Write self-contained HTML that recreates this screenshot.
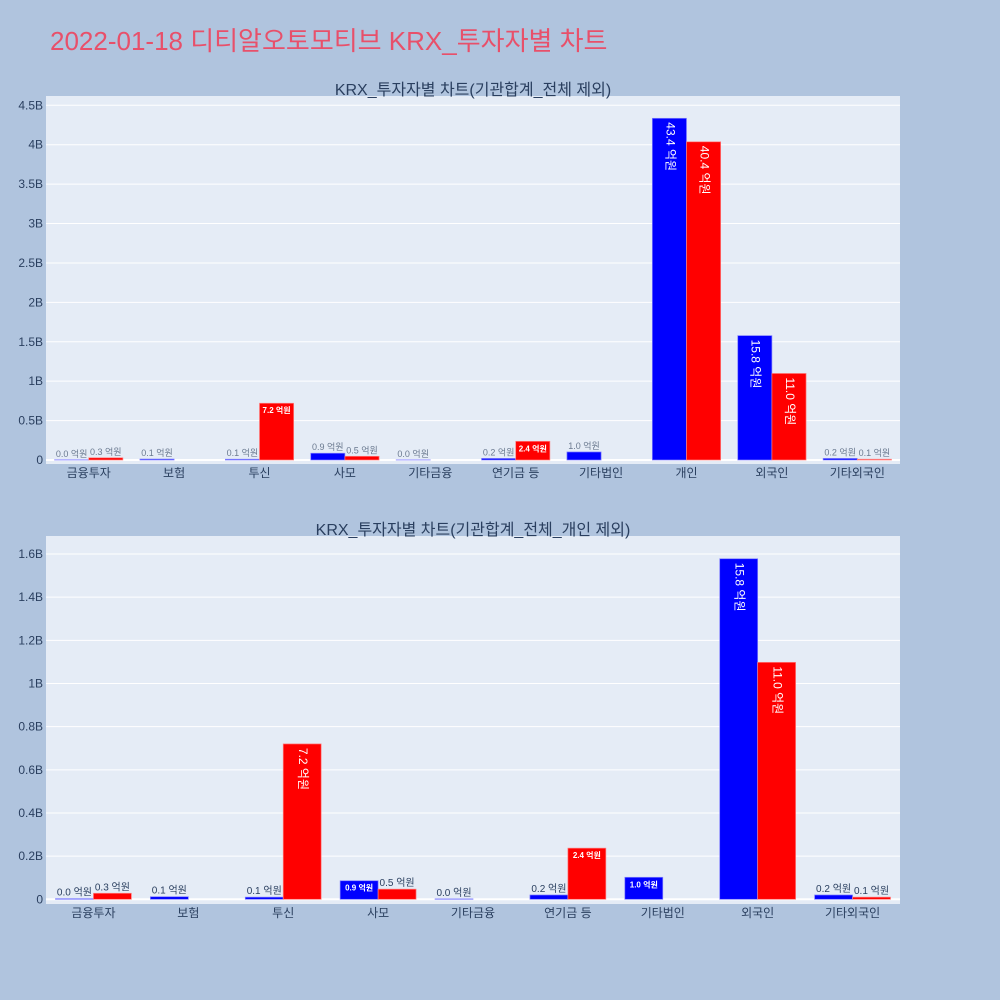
<!DOCTYPE html>
<html><head><meta charset="utf-8"><style>
html,body{margin:0;padding:0;background:#b0c4de;}
svg{display:block;font-family:"Liberation Sans","Noto Sans CJK KR",sans-serif;}
</style></head><body>
<svg id="svg" width="1000" height="1000" xmlns="http://www.w3.org/2000/svg">
<rect width="1000" height="1000" fill="#b0c4de"/>
<text x="50" y="50" font-size="26" fill="#e8506a">2022-01-18 디티알오토모티브 KRX_투자자별 차트</text>
<g id="c1"></g>
<g id="c2"></g>
</svg>
<script>
const cats1 = ["금융투자","보험","투신","사모","기타금융","연기금 등","기타법인","개인","외국인","기타외국인"];
const blue1 = [0.003,0.012,0.01,0.086,0.002,0.02,0.102,4.335,1.578,0.02];
const red1  = [0.028,0,0.72,0.047,0,0.237,0,4.037,1.098,0.01];
const ticks1 = [0,0.5,1,1.5,2,2.5,3,3.5,4,4.5];
const tickLabels1 = ["0","0.5B","1B","1.5B","2B","2.5B","3B","3.5B","4B","4.5B"];
const cats2 = ["금융투자","보험","투신","사모","기타금융","연기금 등","기타법인","외국인","기타외국인"];
const blue2 = [0.003,0.012,0.01,0.086,0.002,0.02,0.102,1.578,0.02];
const red2  = [0.028,0,0.72,0.047,0,0.237,0,1.098,0.01];
const ticks2 = [0,0.2,0.4,0.6,0.8,1,1.2,1.4,1.6];
const tickLabels2 = ["0","0.2B","0.4B","0.6B","0.8B","1B","1.2B","1.4B","1.6B"];

const NS="http://www.w3.org/2000/svg";
function mk(tag,attrs,parent){const e=document.createElementNS(NS,tag);for(const k in attrs)e.setAttribute(k,attrs[k]);parent.appendChild(e);return e;}

function draw(g,opt){
  const {cats,blue,red,ticks,tickLabels,x0,x1,top,bottom,zeroY,maxV,maxY,title,titleY,outColor,outSize}=opt;
  const yS=v=>zeroY-(zeroY-maxY)*v/maxV;
  const bg=mk("rect",{x:x0,y:top,width:x1-x0,height:bottom-top,fill:"#e5ecf6"},g);
  
  
  ticks.forEach((t,i)=>{
    const y=yS(t);
    const l=mk("line",{x1:x0,x2:x1,y1:y,y2:y,stroke:"#fff","stroke-width":t===0?2:1},g);
    
    
    const tx=mk("text",{x:x0-3,y:y+4,"font-size":12,fill:"#2a3f5f","text-anchor":"end"},g);
    tx.textContent=tickLabels[i];
    
    
  });
  const tt=mk("text",{x:(x0+x1)/2,y:titleY,"font-size":16,fill:"#2a3f5f","text-anchor":"middle"},g);
  tt.textContent=title;
  
  
  const n=cats.length, cw=(x1-x0)/n, bw=cw*0.4;
  cats.forEach((c,i)=>{
    const cx=x0+cw*(i+0.5);
    const xl=mk("text",{x:cx,y:bottom+13,"font-size":12,fill:"#2a3f5f","text-anchor":"middle"},g);
    xl.textContent=c;
    
    
    [[blue[i],"#0000ff","#8080ff",cx-bw],[red[i],"#ff0000","#ff8080",cx]].forEach(([v,col,edge,bx],k)=>{
      if(v===0) return;
      const y=yS(v), h=zeroY-y;
      const r=mk("rect",{x:bx,y:y,width:bw,height:h,fill:col,stroke:edge,"stroke-width":0.7},g);
      
      
      const label=(v*10).toFixed(1)+" 억원";
      let t;
      if(h>=60){
        const lx=bx+bw/2, ly=y+4;
        t=mk("text",{x:lx,y:ly,"font-size":12,fill:"#fff","dominant-baseline":"middle",transform:`rotate(90 ${lx} ${ly})`},g);
      } else if(h>=15){
        t=mk("text",{x:bx+bw/2,y:y+10,"font-size":8,"font-weight":"bold",fill:"#fff","text-anchor":"middle"},g);
      } else {
        t=mk("text",{x:bx+bw/2,y:y-3,"font-size":outSize,fill:outColor,"text-anchor":"middle"},g);
      }
      t.textContent=label;
      
      
    });
    if(blue[i]===0&&false){}
  });
}
draw(document.getElementById("c1"),{cats:cats1,blue:blue1,red:red1,ticks:ticks1,tickLabels:tickLabels1,
  x0:46,x1:900,top:96,bottom:464,zeroY:460,maxV:4.5,maxY:105.3,title:"KRX_투자자별 차트(기관합계_전체 제외)",titleY:95,outColor:"#6b7a90",outSize:9});
draw(document.getElementById("c2"),{cats:cats2,blue:blue2,red:red2,ticks:ticks2,tickLabels:tickLabels2,
  x0:46,x1:900,top:536,bottom:904,zeroY:899.3,maxV:1.6,maxY:554,title:"KRX_투자자별 차트(기관합계_전체_개인 제외)",titleY:535,outColor:"#2a3f5f",outSize:10});
</script>
</body></html>
